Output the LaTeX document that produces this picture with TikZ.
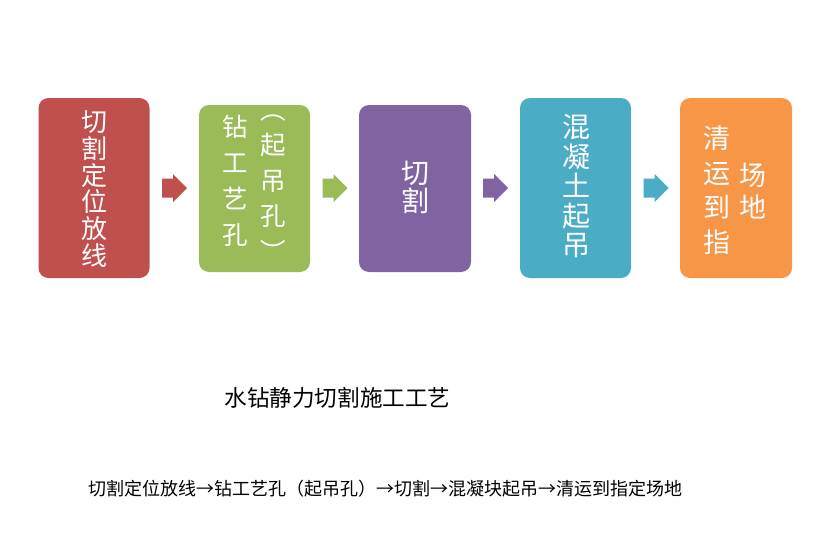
\documentclass[tikz,border=0pt]{standalone}
\usepackage{fontspec}
\setmainfont{Noto Sans CJK SC}
\definecolor{cred}{HTML}{C0504D}
\definecolor{cgreen}{HTML}{9BBB59}
\definecolor{cpurple}{HTML}{8064A2}
\definecolor{cblue}{HTML}{4BACC6}
\definecolor{corange}{HTML}{F79646}
\tikzset{
  stepbox/.style={rounded corners=10pt, draw=none, inner sep=0pt},
  vtext/.style={text=white, align=center, inner sep=0pt},
  pics/blockarrow/.style={code={
    \fill (-12.5,-9.5) -- (-1.5,-9.5) -- (-1.5,-14) -- (12.5,0) -- (-1.5,14) -- (-1.5,9.5) -- (-12.5,9.5) -- cycle;
  }},
}
\begin{document}
\begin{tikzpicture}[x=1pt,y=-1pt]
\useasboundingbox[fill=white] (0,0) rectangle (825,552);
% boxes
\node[stepbox, fill=cred, minimum width=111pt, minimum height=180pt] (b1) at (94,188) {};
\node[stepbox, fill=cgreen, minimum width=111pt, minimum height=167pt] (b2) at (254.5,188.5) {};
\node[stepbox, fill=cpurple, minimum width=112pt, minimum height=167pt] (b3) at (415,188.5) {};
\node[stepbox, fill=cblue, minimum width=111pt, minimum height=180pt] (b4) at (575.5,188) {};
\node[stepbox, fill=corange, minimum width=112pt, minimum height=180pt] (b5) at (736,188) {};
% arrows
\coordinate (a1) at (174.5,188);
\coordinate (a2) at (335,188);
\coordinate (a3) at (495.5,188);
\coordinate (a4) at (656,188);
\pic[fill=cred] at (a1) {blockarrow};
\pic[fill=cgreen] at (a2) {blockarrow};
\pic[fill=cpurple] at (a3) {blockarrow};
\pic[fill=cblue] at (a4) {blockarrow};
% texts
\node[vtext, font=\fontsize{26}{26.7}\selectfont] (t1) at (94,189) {切\\割\\定\\位\\放\\线};
\node[vtext, font=\fontsize{25.5}{36}\selectfont] (t2a) at (235,181) {钻\\工\\艺\\孔};
\node[vtext, font=\fontsize{25.5}{35.5}\selectfont] (t2b) at (273,188) {︵\\起\\吊\\孔\\︶};
\node[vtext, font=\fontsize{28}{28}\selectfont] (t3) at (415,187.5) {切\\割};
\node[vtext, font=\fontsize{28}{29.5}\selectfont] (t4) at (576,186.5) {混\\凝\\土\\起\\吊};
\node[vtext, font=\fontsize{27}{34.5}\selectfont] (t5a) at (717,190) {清\\运\\到\\指};
\node[vtext, font=\fontsize{27}{32}\selectfont] (t5b) at (753,191) {场\\地};
\node[inner sep=0pt, font=\fontsize{22.6}{24}\selectfont] (title) at (337.5,398) {水钻静力切割施工工艺};
\node[inner sep=0pt, font=\fontsize{18}{20}\selectfont] (flow) at (385.5,489) {切割定位放线→钻工艺孔（起吊孔）→切割→混凝块起吊→清运到指定场地};
\end{tikzpicture}
\end{document}
